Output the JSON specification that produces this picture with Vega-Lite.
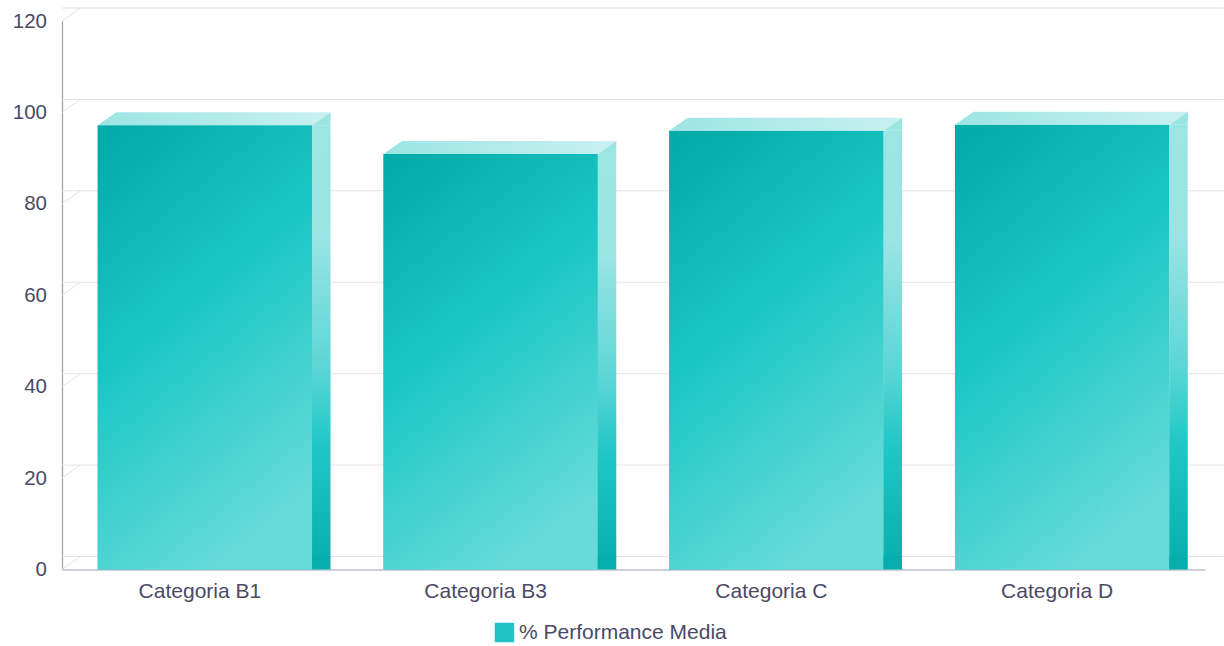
{
  "$schema": "https://vega.github.io/schema/vega-lite/v6.json",
  "width": 1143,
  "height": 548.5,
  "autosize": {"type": "none"},
  "padding": {"left": 62, "top": 21, "right": 19, "bottom": 76.5},
  "background": "white",
  "config": {
    "view": {"stroke": null},
    "font": "Liberation Sans"
  },
  "datasets": {
    "bars": [
      {"categoria": "Categoria B1", "performance": 97.2},
      {"categoria": "Categoria B3", "performance": 90.9},
      {"categoria": "Categoria C", "performance": 96.0},
      {"categoria": "Categoria D", "performance": 97.3}
    ],
    "ticks": [
      {"v": 0}, {"v": 20}, {"v": 40}, {"v": 60}, {"v": 80}, {"v": 100}, {"v": 120}
    ]
  },
  "layer": [
    {
      "data": {"name": "ticks"},
      "mark": {"type": "rule", "color": "#e2e2ea", "strokeWidth": 1, "xOffset": 18.5, "x2Offset": 19, "yOffset": -13},
      "encoding": {
        "y": {
          "field": "v",
          "type": "quantitative",
          "scale": {"domain": [0, 120], "nice": false},
          "axis": {
            "title": null,
            "values": [0, 20, 40, 60, 80, 100, 120],
            "labelFontSize": 20.5,
            "labelColor": "#4a4a66",
            "labelPadding": 15.5,
            "labelBaseline": "middle",
            "labelAlign": "right",
            "labelFlush": false,
            "labelOffset": 0,
            "labelOverlap": false,
            "domainColor": "#9d9db5",
            "domainWidth": 1.2,
            "ticks": false,
            "grid": false
          }
        }
      }
    },
    {
      "data": {"name": "ticks"},
      "mark": {"type": "rule", "color": "#e2e2ea", "strokeWidth": 1, "y2Offset": -13},
      "encoding": {
        "x": {"value": 0},
        "x2": {"value": 18.5},
        "y": {"field": "v", "type": "quantitative"},
        "y2": {"field": "v"}
      }
    },
    {
      "data": {"name": "bars"},
      "encoding": {
        "x": {
          "field": "categoria",
          "type": "nominal",
          "sort": null,
          "scale": {"paddingInner": 0.25, "paddingOuter": 0.125},
          "axis": {
            "title": null,
            "labelAngle": 0,
            "labelFontSize": 21,
            "labelColor": "#4a4a66",
            "labelPadding": 11,
            "labelOffset": -5,
            "ticks": false,
            "grid": false,
            "domainColor": "#9d9db5",
            "domainWidth": 1.2
          }
        },
        "y": {
          "field": "performance",
          "type": "quantitative",
          "axis": {
            "title": null,
            "values": [0, 20, 40, 60, 80, 100, 120],
            "labelFontSize": 20.5,
            "labelColor": "#4a4a66",
            "labelPadding": 15.5,
            "labelBaseline": "middle",
            "labelAlign": "right",
            "labelFlush": false,
            "labelOffset": 0,
            "labelOverlap": false,
            "domainColor": "#9d9db5",
            "domainWidth": 1.2,
            "ticks": false,
            "grid": false
          }
        }
      },
      "layer": [
        {
          "mark": {"type": "bar"},
          "encoding": {
            "color": {
              "datum": "% Performance Media",
              "type": "nominal",
              "scale": {"range": ["#22c3c2"]},
              "legend": {
                "title": null,
                "orient": "none",
                "legendX": 432,
                "legendY": 601,
                "symbolType": "square",
                "symbolSize": 380,
                "symbolStrokeWidth": 0,
                "symbolOpacity": 1,
                "labelFontSize": 21,
                "labelColor": "#4a4a66",
                "labelOffset": 4,
                "labelLimit": 0
              }
            }
          }
        },
        {
          "mark": {
            "type": "bar",
            "fill": {
              "gradient": "linear",
              "x1": 0.15, "y1": 0, "x2": 0.55, "y2": 1,
              "stops": [
                {"offset": 0, "color": "#03aca9"},
                {"offset": 0.45, "color": "#1bc7c6"},
                {"offset": 1, "color": "#66dbd8"}
              ]
            }
          }
        },
        {
          "mark": {
            "type": "bar",
            "width": 18.5,
            "xOffset": 116.4,
            "y2Offset": -13,
            "fill": {
              "gradient": "linear",
              "x1": 0, "y1": 0, "x2": 0, "y2": 1,
              "stops": [
                {"offset": 0, "color": "#9ce5e5"},
                {"offset": 0.25, "color": "#9ae4e4"},
                {"offset": 0.55, "color": "#5ad5d5"},
                {"offset": 0.72, "color": "#1fc7c7"},
                {"offset": 1, "color": "#05adac"}
              ]
            }
          }
        },
        {
          "mark": {
            "type": "point",
            "shape": "M0,0L214.3,0L232.8,-13L18.5,-13Z",
            "size": 4,
            "filled": true,
            "opacity": 1,
            "strokeWidth": 0,
            "fill": {
              "gradient": "linear",
              "x1": 0, "y1": 0, "x2": 1, "y2": 0,
              "stops": [
                {"offset": 0, "color": "#9ce5e4"},
                {"offset": 1, "color": "#c8f1f0"}
              ]
            }
          },
          "encoding": {
            "x": {"field": "categoria", "type": "nominal", "sort": null, "bandPosition": 0}
          }
        },
        {
          "mark": {
            "type": "point",
            "shape": "M0,0L18.5,-13L18.5,0Z",
            "size": 4,
            "filled": true,
            "opacity": 1,
            "strokeWidth": 0,
            "fill": "#9ce5e5"
          },
          "encoding": {
            "x": {"field": "categoria", "type": "nominal", "sort": null, "bandPosition": 1}
          }
        },
        {
          "mark": {
            "type": "point",
            "shape": "M0,0L0,-13L18.5,-13Z",
            "size": 4,
            "filled": true,
            "opacity": 1,
            "strokeWidth": 0,
            "fill": "#05adac"
          },
          "encoding": {
            "x": {"field": "categoria", "type": "nominal", "sort": null, "bandPosition": 1},
            "y": {"datum": 0, "type": "quantitative"}
          }
        }
      ]
    }
  ]
}
